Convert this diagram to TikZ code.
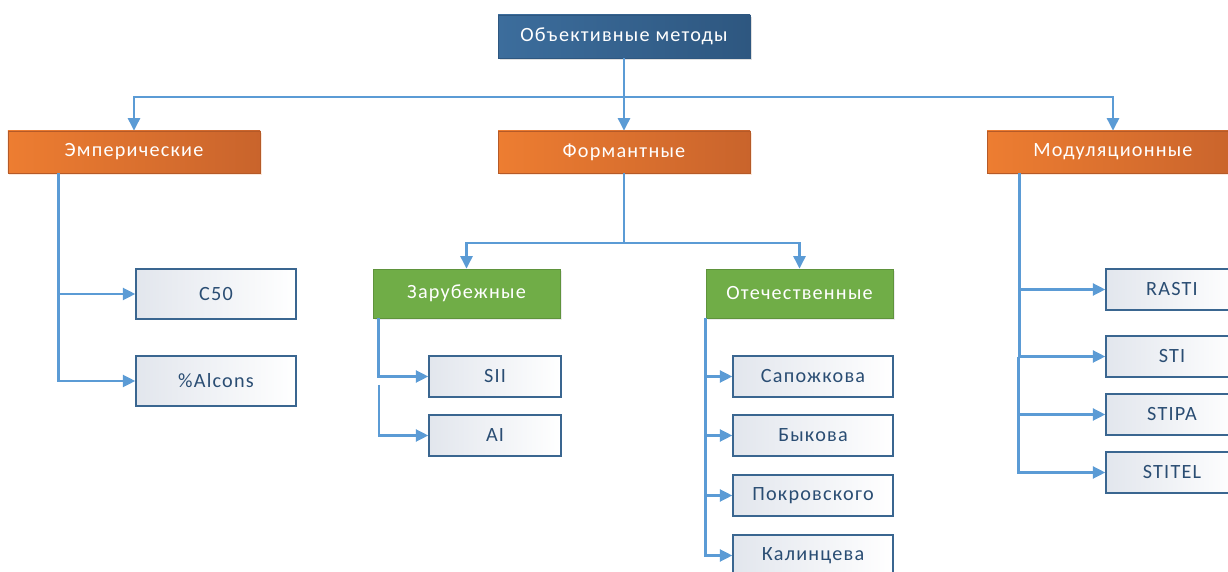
\documentclass[tikz,border=0pt]{standalone}
\usepackage{fontspec}
\setmainfont{Carlito}
\usetikzlibrary{arrows.meta,shadows}

\definecolor{topblue}{HTML}{3C6D9C}
\definecolor{topbluedark}{HTML}{2E5780}
\definecolor{orangelight}{HTML}{ED7D31}
\definecolor{orangedark}{HTML}{C9642C}
\definecolor{greenbox}{HTML}{70AD47}
\definecolor{leafline}{HTML}{3A6690}
\definecolor{leafgray}{HTML}{E2E6ED}
\definecolor{leaftext}{HTML}{2A4D73}
\definecolor{linkblue}{HTML}{5B9BD5}

\begin{document}
\begin{tikzpicture}[
	boxtext/.style={font=\fontsize{11.5}{13}\selectfont\addfontfeature{LetterSpace=6}},
	rootbox/.style={rectangle,boxtext,text=white,draw=topbluedark,left color=topblue,right color=topbluedark,minimum width=5.04cm,minimum height=0.86cm,drop shadow={opacity=0.25,shadow xshift=0.04cm,shadow yshift=-0.05cm}},
	groupbox/.style={rectangle,boxtext,text=white,draw=orangedark!90!black,left color=orangelight,right color=orangedark,minimum width=5.04cm,minimum height=0.84cm,drop shadow={opacity=0.18,shadow xshift=0.03cm,shadow yshift=-0.05cm,fill=orangelight}},
	subbox/.style={rectangle,boxtext,text=white,draw=greenbox!85!black,fill=greenbox,minimum width=3.74cm,minimum height=0.98cm,drop shadow={opacity=0.15,shadow xshift=0.03cm,shadow yshift=-0.04cm}},
	leafbox/.style={rectangle,boxtext,text=leaftext,draw=leafline,line width=0.8pt,left color=leafgray,right color=white,minimum width=3.2cm,minimum height=0.82cm},
	link/.style={draw=linkblue,line width=1.4pt,-{Triangle[length=0.25cm,width=0.24cm]}}
	]
	
	\useasboundingbox (0cm,0cm) rectangle (24.56cm,-11.44cm);
	
	\node(root) [rootbox] at (12.48cm,-0.73cm) {Объективные методы};
	
	\node(empiric) [groupbox] at (2.68cm,-3.04cm) {Эмперические};
	
	\node(formant) [groupbox] at (12.48cm,-3.04cm) {Формантные};
	
	\node(modul) [groupbox] at (22.26cm,-3.04cm) {Модуляционные};
	
	\node(foreign) [subbox] at (9.33cm,-5.87cm) {Зарубежные};
	
	\node(domestic) [subbox] at (15.99cm,-5.87cm) {Отечественные};
	
	\node(cfifty) [leafbox,minimum height=1.0cm] at (4.32cm,-5.88cm) {C50};
	
	\node(alcons) [leafbox,minimum height=1.0cm] at (4.32cm,-7.62cm) {\%Alcons};
	
	\node(sii) [leafbox,minimum width=2.64cm] at (9.9cm,-7.53cm) {SII};
	
	\node(ai) [leafbox,minimum width=2.64cm] at (9.9cm,-8.71cm) {AI};
	
	\node(sapozhkov) [leafbox] at (16.26cm,-7.53cm) {Сапожкова};
	
	\node(bykov) [leafbox] at (16.26cm,-8.71cm) {Быкова};
	
	\node(pokrovsky) [leafbox] at (16.26cm,-9.91cm) {Покровского};
	
	\node(kalintsev) [leafbox] at (16.26cm,-11.11cm) {Калинцева};
	
	\node(rasti) [leafbox,minimum width=2.64cm] at (23.44cm,-5.79cm) {RASTI};
	
	\node(sti) [leafbox,minimum width=2.64cm] at (23.44cm,-7.13cm) {STI};
	
	\node(stipa) [leafbox,minimum width=2.64cm] at (23.44cm,-8.29cm) {STIPA};
	
	\node(stitel) [leafbox,minimum width=2.64cm] at (23.44cm,-9.45cm) {STITEL};
	
	\coordinate(topbus) at (12.48cm,-1.94cm);
	
	\coordinate(formantbus) at (12.48cm,-4.86cm);
	
	\coordinate(aistart) at (7.58cm,-7.7cm);
	
	\coordinate(modulbus) at (20.37cm,-7.14cm);
	
	\draw[link] (root) -- (formant);
	
	\draw[link] (topbus) -| (empiric);
	
	\draw[link] (topbus) -| (modul);
	
	\draw[link] (formant) -- (formantbus) -| (foreign);
	
	\draw[link] (formantbus) -| (domestic);
	
	\draw[link] ([xshift=1.02cm]empiric.south west) |- (cfifty);
	
	\draw[link] ([xshift=1.02cm]empiric.south west) |- (alcons);
	
	\draw[link] ([xshift=0.12cm]foreign.south west) |- (sii);
	
	\draw[link] (aistart) |- (ai);
	
	\draw[link] (domestic.south west) |- (sapozhkov);
	
	\draw[link] (domestic.south west) |- (bykov);
	
	\draw[link] (domestic.south west) |- (pokrovsky);
	
	\draw[link] (domestic.south west) |- (kalintsev);
	
	\draw[link] ([xshift=0.66cm]modul.south west) |- (rasti);
	
	\draw[link] ([xshift=0.66cm]modul.south west) |- (sti);
	
	\draw[link] (modulbus) |- (stipa);
	
	\draw[link] (modulbus) |- (stitel);
	
\end{tikzpicture}
\end{document}
